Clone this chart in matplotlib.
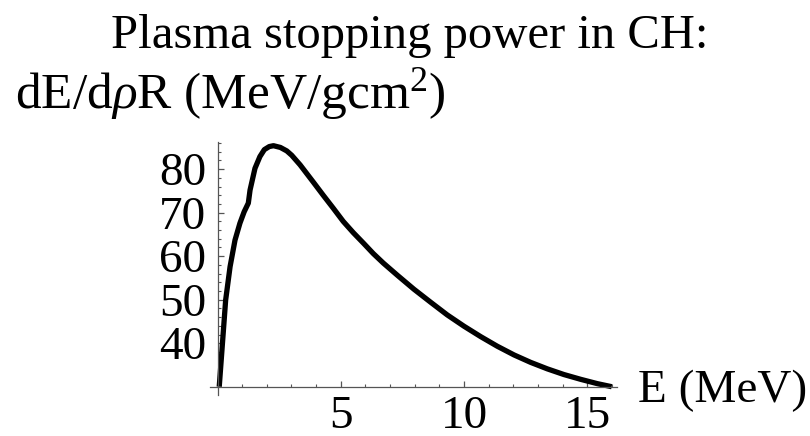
import matplotlib
matplotlib.use("Agg")
import matplotlib.pyplot as plt
from matplotlib.ticker import FixedLocator

plt.rcParams['font.family'] = ['Liberation Serif', 'DejaVu Serif']
plt.rcParams['mathtext.fontset'] = 'custom'
plt.rcParams['mathtext.rm'] = 'Liberation Serif'
plt.rcParams['mathtext.it'] = 'Liberation Serif:italic'

# stopping power curve, proton energy (MeV) vs dE/drhoR (MeV/gcm^2)
energy = [0.07, 0.21, 0.33, 0.51, 0.71, 0.91, 1.08, 1.25, 1.32, 1.52, 1.72,
          1.9, 2.1, 2.27, 2.55, 2.81, 3.01, 3.35, 3.89, 4.29, 4.70, 5.10, 5.51,
          5.92, 6.32, 6.73, 7.30, 7.97, 8.65, 9.32, 10.0, 10.68, 11.35, 12.03,
          12.70, 13.38, 14.05, 14.73, 15.41, 15.99]
stopping = [30.0, 40.7, 49.9, 57.6, 63.7, 67.6, 70.2, 72.2, 75.2, 80.2, 82.9,
            84.5, 85.2, 85.4, 85.0, 84.2, 83.2, 81.0, 77.0, 74.0, 71.0, 68.0, 65.4,
            63.0, 60.6, 58.4, 55.6, 52.4, 49.4, 46.5, 43.9, 41.5, 39.3, 37.3,
            35.6, 34.1, 32.8, 31.7, 30.7, 30.0]

x_major = [5, 10, 15]
y_major = [40, 50, 60, 70, 80]
x_minor = [v for v in range(1, 17) if v not in x_major]
y_minor = [v for v in range(32, 87, 2) if v not in y_major]

title = 'Plasma stopping power in CH:'
ylabel = r'dE/d$\rho$R (MeV/gcm$^2$)'
xlabel = 'E (MeV)'

fig = plt.figure(figsize=(8.1, 4.36), dpi=100)
ax = fig.add_axes([0.2594, 0.0931, 0.5052, 0.5837])

ax.plot(energy, stopping, color='black', lw=3.8, solid_capstyle='butt',
        solid_joinstyle='round')

ax.set_xlim(-0.3, 16.3)
ax.set_ylim(28.0, 86.5)

for s in ['top', 'right']:
    ax.spines[s].set_visible(False)
ax.spines['left'].set_position(('data', 0))
ax.spines['bottom'].set_position(('data', 30))
ax.spines['left'].set_bounds(28.0, 86.3)
ax.spines['bottom'].set_bounds(-0.3, 16.2)
for s in ['left', 'bottom']:
    ax.spines[s].set_color('#555555')
    ax.spines[s].set_linewidth(0.9)

ax.xaxis.set_major_locator(FixedLocator(x_major))
ax.yaxis.set_major_locator(FixedLocator(y_major))
ax.xaxis.set_minor_locator(FixedLocator(x_minor))
ax.yaxis.set_minor_locator(FixedLocator(y_minor))
ax.tick_params(which='major', direction='in', length=4.5, width=0.9,
               color='#555555', labelsize=34, pad=6)
ax.tick_params(which='minor', direction='in', length=2.5, width=0.8,
               color='#555555')
ax.tick_params(axis='y', pad=8)

fig.text(410 / 810, 1 - 48 / 436, title, ha='center', va='baseline', fontsize=35)
fig.text(15 / 810, 1 - 108 / 436, ylabel, ha='left', va='baseline', fontsize=37)
fig.text(638 / 810, 1 - 402 / 436, xlabel, ha='left', va='baseline', fontsize=34)

fig.savefig('out.png', dpi=100)
